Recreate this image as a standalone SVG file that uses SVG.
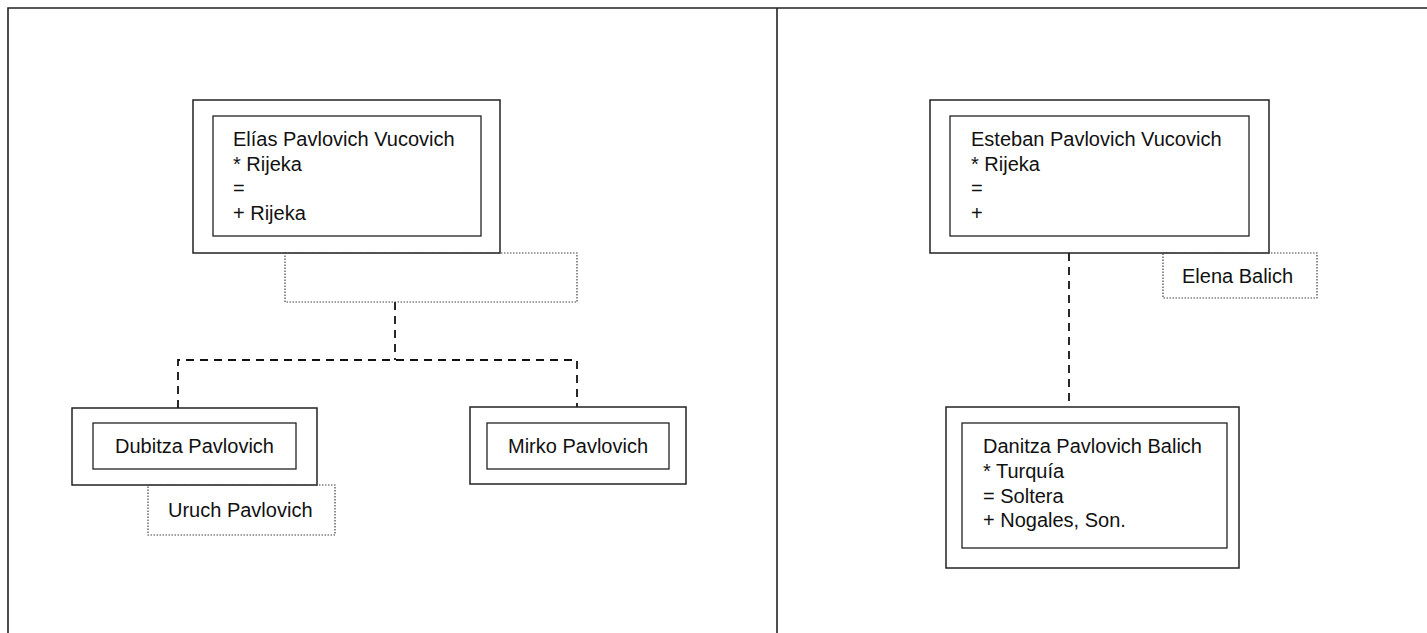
<svg xmlns="http://www.w3.org/2000/svg" width="1427" height="633" viewBox="0 0 1427 633">
  <style>
    .frame { fill: none; stroke: #222; stroke-width: 1.6; }
    .outer { fill: none; stroke: #222; stroke-width: 1.5; }
    .inner { fill: none; stroke: #222; stroke-width: 1.3; }
    .spouse { fill: none; stroke: #444; stroke-width: 1.2; stroke-dasharray: 1.5 1.5; }
    .link { fill: none; stroke: #111; stroke-width: 1.8; stroke-dasharray: 8 6; }
    text { font-family: "Liberation Sans", Arial, sans-serif; font-size: 20px; fill: #111; }
  </style>
  <rect width="1427" height="633" fill="#fff"/>

  <!-- page frame: two panels -->
  <g id="frame">
    <path class="frame" d="M8 633 V8 H1427"/>
    <path class="frame" d="M777 8 V633"/>
  </g>

  <!-- descent lines -->
  <g id="connectors">
    <path class="link" d="M395 302 V360"/>
    <path class="link" d="M178 408 V360 H577 V407"/>
    <path class="link" d="M1069 253 V407"/>
  </g>

  <g id="elias">
    <rect class="outer" x="193" y="100" width="307" height="153"/>
    <rect class="inner" x="213" y="116" width="268" height="120"/>
    <text x="233" y="146">Elías Pavlovich Vucovich</text>
    <text x="233" y="171">* Rijeka</text>
    <text x="233" y="195">=</text>
    <text x="233" y="220">+ Rijeka</text>
  </g>

  <g id="elias-spouse">
    <rect class="spouse" x="285" y="253" width="292" height="49"/>
  </g>

  <g id="dubitza">
    <rect class="outer" x="72" y="408" width="245" height="77"/>
    <rect class="inner" x="93" y="423" width="203" height="46"/>
    <text x="115" y="453">Dubitza Pavlovich</text>
  </g>

  <g id="uruch">
    <rect class="spouse" x="148" y="485" width="187" height="50"/>
    <text x="168" y="517">Uruch Pavlovich</text>
  </g>

  <g id="mirko">
    <rect class="outer" x="470" y="407" width="216" height="77"/>
    <rect class="inner" x="487" y="423" width="182" height="46"/>
    <text x="508" y="453">Mirko Pavlovich</text>
  </g>

  <g id="esteban">
    <rect class="outer" x="930" y="100" width="339" height="153"/>
    <rect class="inner" x="950" y="116" width="299" height="120"/>
    <text x="971" y="146">Esteban Pavlovich Vucovich</text>
    <text x="971" y="171">* Rijeka</text>
    <text x="971" y="195">=</text>
    <text x="971" y="220">+</text>
  </g>

  <g id="elena">
    <rect class="spouse" x="1163" y="253" width="154" height="45"/>
    <text x="1182" y="283">Elena Balich</text>
  </g>

  <g id="danitza">
    <rect class="outer" x="946" y="407" width="293" height="161"/>
    <rect class="inner" x="962" y="423" width="265" height="125"/>
    <text x="983" y="453">Danitza Pavlovich Balich</text>
    <text x="983" y="478">* Turquía</text>
    <text x="983" y="503">= Soltera</text>
    <text x="983" y="527">+ Nogales, Son.</text>
  </g>
</svg>
